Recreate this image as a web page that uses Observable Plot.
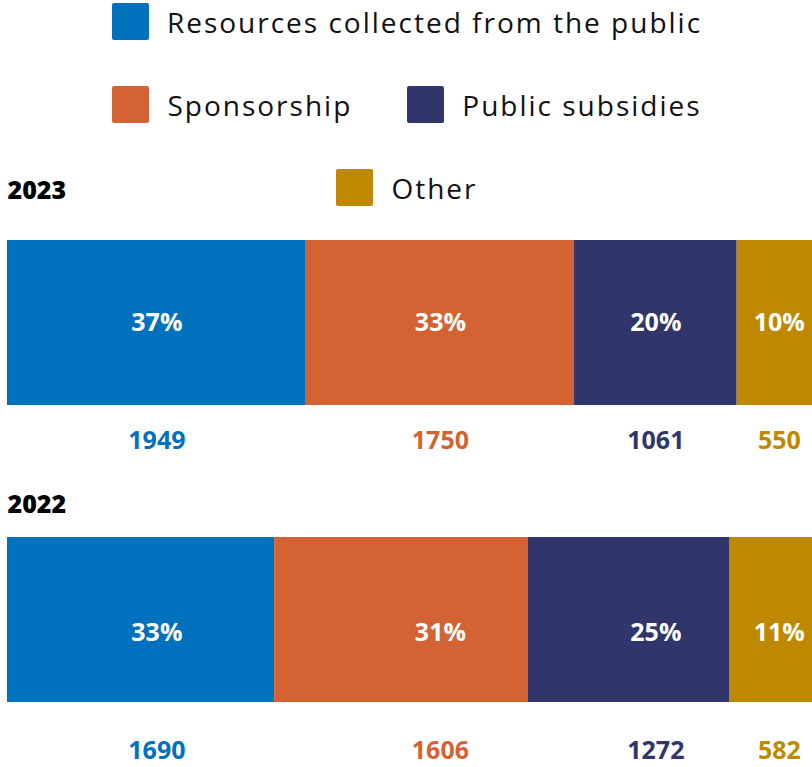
<!DOCTYPE html>
<html>
<head>
<meta charset="utf-8">
<script src="https://cdn.jsdelivr.net/npm/d3@7"></script>
<script src="https://cdn.jsdelivr.net/npm/@observablehq/plot@0.6"></script>
<style>
  html, body { margin: 0; padding: 0; background: #fff; }
  #wrap { position: relative; width: 812px; height: 767px; overflow: hidden; }
  #legend { position: absolute; top: 3px; left: 96px; width: 622px; display: flex; flex-wrap: wrap; justify-content: center; column-gap: 55px; row-gap: 46px; z-index: 2; font-family: "Open Sans", sans-serif; font-size: 28px; letter-spacing: 2px; color: #111; }
  .item { display: flex; align-items: center; height: 37px; white-space: nowrap; }
  .sw { width: 37px; height: 37px; border-radius: 2px; margin-right: 18px; flex: none; }
</style>
</head>
<body>
<div id="wrap">
  <div id="legend"></div>
  <div id="chart"></div>
</div>
<script>
const categories = ["Resources collected from the public", "Sponsorship", "Public subsidies", "Other"];
const colors = ["#0071BC", "#D36332", "#30356B", "#BE8900"];
const years = ["2023", "2022"];
const values2023 = [1949, 1750, 1061, 550];
const values2022 = [1690, 1606, 1272, 582];

const rows = [];
[[years[0], values2023], [years[1], values2022]].forEach(([year, vals]) => {
  const total = d3.sum(vals);
  vals.forEach((v, i) => rows.push({
    year, category: categories[i], value: v, label: String(v),
    pct: Math.round(v / total * 100) + "%",
    // labels sit in common columns, aligned on the 2023 segments
    col: values2023[i]
  }));
});

// legend
const legend = document.getElementById("legend");
categories.forEach((c, i) => {
  const it = document.createElement("div");
  it.className = "item";
  it.innerHTML = `<span class="sw" style="background:${colors[i]}"></span><span>${c}</span>`;
  legend.appendChild(it);
});

const font = "Open Sans";
const bar = {x: "value", y: "year", offset: "normalize"};
const lab = {x: "col", y: "year", offset: "normalize"};
const r23 = rows.filter(d => d.year === years[0]);
const r22 = rows.filter(d => d.year === years[1]);
const txt = {fontSize: 25, fontWeight: 700, fontFamily: font};

const plot = Plot.plot({
  width: 812,
  height: 767,
  margin: 0,
  x: {domain: [0, 1], range: [7, 821], axis: null},
  y: {type: "band", domain: years, range: [240, 703], paddingInner: 0.446, paddingOuter: 0, align: 0, axis: null},
  color: {domain: categories, range: colors},
  style: {background: "transparent"},
  marks: [
    Plot.barX(rows, Plot.stackX({...bar, fill: "category"})),
    Plot.text(r23, Plot.stackX({...lab, text: "pct", fill: "white", ...txt, dy: 0})),
    Plot.text(r22, Plot.stackX({...lab, text: "pct", fill: "white", ...txt, dy: 13})),
    Plot.text(r23, Plot.stackX({...lab, text: "label", fill: "category", ...txt, dy: 118})),
    Plot.text(r22, Plot.stackX({...lab, text: "label", fill: "category", ...txt, dy: 131})),
    Plot.text([years[0]], {y: d => d, text: d => d, frameAnchor: "left", textAnchor: "start", dx: 7, dy: -132, ...txt, fontWeight: 800, fill: "#000"}),
    Plot.text([years[1]], {y: d => d, text: d => d, frameAnchor: "left", textAnchor: "start", dx: 7, dy: -115, ...txt, fontWeight: 800, fill: "#000"})
  ]
});
document.getElementById("chart").appendChild(plot);
</script>
</body>
</html>
